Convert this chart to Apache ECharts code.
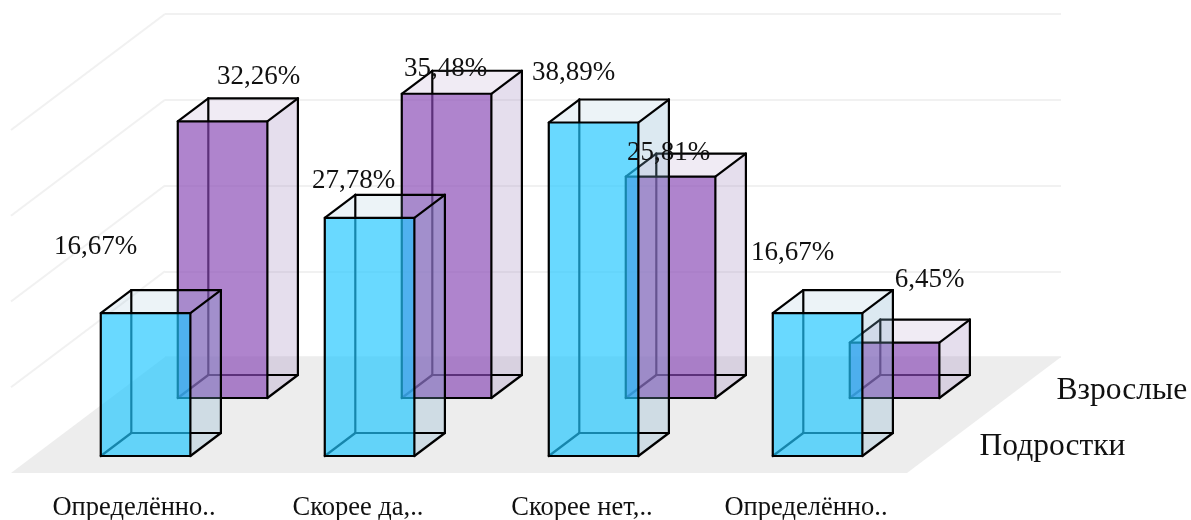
<!DOCTYPE html>
<html>
<head>
<meta charset="utf-8">
<style>html,body{margin:0;padding:0;background:#fff}#chart{width:1191px;height:520px}</style>
<script src="https://cdn.jsdelivr.net/npm/echarts@6/dist/echarts.min.js"></script>
</head>
<body>
<div id="chart"></div>
<script>
// Survey answers by age group
const categories = ['Определённо..', 'Скорее да,..', 'Скорее нет,..', 'Определённо..'];
const teens = [16.67, 27.78, 38.89, 16.67];
const adults = [32.26, 35.48, 25.81, 6.45];
const valueTicks = [0, 10, 20, 30, 40];

// Value label placement relative to the centre of each box's top front edge
const teenLabelNudge = [[-50, -66], [-16, -37], [-20, -50], [-25, -60]];
const adultLabelNudge = [[36, -44], [-1, -25], [-2, -24], [35, -63]];

// Oblique projection: the floor runs 154px left and 116px down from the back wall
const FLOOR_DX = 154, FLOOR_DY = 116;
const FONT = '"Liberation Serif", "Times New Roman", serif';
const INK = '#000';
const EDGE = 2.2;

function project(api, cat, val, side, depth) {
  const p = api.coord([cat, val]);
  const half = api.size([1, 0])[0] * 0.2;
  return [p[0] + side * half - depth * FLOOR_DX / FLOOR_DY, p[1] + depth];
}

function poly(points, fill, stroke, width, z2) {
  return {
    type: 'polygon',
    z2: z2 || 0,
    shape: { points },
    style: { fill: fill || 'none', stroke: stroke || 'none', lineWidth: width || 0, lineJoin: 'round' }
  };
}

function boxRenderer(row) {
  return function (params, api) {
    const i = api.value(0), v = api.value(1);
    const P = (side, val, d) => project(api, i, val, side, d);
    const nf = row.near, fr = row.far, layer = row.layer;
    const fl0 = P(-1, 0, nf), fr0 = P(1, 0, nf), frv = P(1, v, nf), flv = P(-1, v, nf);
    const bl0 = P(-1, 0, fr), br0 = P(1, 0, fr), brv = P(1, v, fr), blv = P(-1, v, fr);
    const line = (a, b) => ({
      type: 'line',
      z2: layer + 1,
      shape: { x1: a[0], y1: a[1], x2: b[0], y2: b[1] },
      style: { stroke: INK, lineWidth: EDGE, lineCap: 'round' }
    });
    const children = [
      poly([fr0, br0, brv, frv], row.side, null, 0, layer),
      poly([flv, frv, brv, blv], row.top, null, 0, layer),
      line(bl0, br0), line(br0, brv), line(brv, blv), line(blv, bl0),
      line(fl0, bl0), line(fr0, br0), line(frv, brv), line(flv, blv),
      poly([fl0, fr0, frv, flv], row.front, null, 0, layer + 2),
      poly([fl0, fr0, frv, flv], null, INK, EDGE, layer + 3)
    ];
    const nudge = row.nudge[i];
    const topMid = [(flv[0] + frv[0]) / 2, flv[1]];
    children.push({
      type: 'text',
      z2: 100,
      style: {
        text: v.toFixed(2).replace('.', ',') + '%',
        x: topMid[0] + nudge[0],
        y: topMid[1] + nudge[1],
        font: '27px ' + FONT,
        fill: '#111',
        align: 'center',
        verticalAlign: 'middle'
      }
    });
    // Row name sits beside the floor's right edge, next to the last box
    if (i === categories.length - 1) {
      children.push({
        type: 'text',
        z2: 100,
        style: {
          text: params.seriesName,
          x: topMid[0] + row.nameOffset[0],
          y: fl0[1] + row.nameOffset[1],
          font: '31.5px ' + FONT,
          fill: '#111',
          align: 'left',
          verticalAlign: 'middle'
        }
      });
    }
    return { type: 'group', children };
  };
}

function wallRenderer(params, api) {
  const v = api.value(1);
  const half = api.size([1, 0])[0] / 2;
  const base = api.coord([0, v]);
  const left = base[0] - half;
  if (v === 0) {
    const right = api.coord([categories.length - 1, 0])[0] + half;
    return poly([
      [left, base[1]], [right, base[1]],
      [right - FLOOR_DX, base[1] + FLOOR_DY], [left - FLOOR_DX, base[1] + FLOOR_DY]
    ], '#ededed');
  }
  return {
    type: 'line',
    shape: { x1: left, y1: base[1], x2: left - FLOOR_DX, y2: base[1] + FLOOR_DY },
    style: { stroke: '#f1f1f1', lineWidth: 2 }
  };
}

const chart = echarts.init(document.getElementById('chart'), null, { renderer: 'canvas' });
chart.setOption({
  animation: false,
  backgroundColor: '#fff',
  grid: [
    { left: 165, width: 896, top: 14, height: 343 },
    { left: 22, width: 896, top: 490, height: 1 }
  ],
  xAxis: [
    { type: 'category', data: categories, gridIndex: 0, show: false },
    {
      type: 'category', data: categories, gridIndex: 1,
      axisLine: { show: false }, axisTick: { show: false },
      axisLabel: { interval: 0, margin: 4.5, fontFamily: FONT, fontSize: 26.5, color: '#111', hideOverlap: false }
    }
  ],
  yAxis: [
    {
      type: 'value', min: 0, max: 40, interval: 10, gridIndex: 0,
      axisLabel: { show: false }, axisLine: { show: false }, axisTick: { show: false },
      splitLine: { show: true, lineStyle: { color: '#f1f1f1', width: 2 } }
    },
    { type: 'value', gridIndex: 1, show: false }
  ],
  series: [
    {
      type: 'custom', name: 'Стены', clip: false, silent: true, z: 1,
      renderItem: wallRenderer,
      encode: { x: 0, y: 1 },
      data: valueTicks.map(t => [0, t])
    },
    {
      type: 'custom', name: 'Взрослые', clip: false, z: 2,
      renderItem: boxRenderer({
        near: 41, far: 18, layer: 0,
        front: 'rgba(136,73,181,0.675)',
        side: 'rgba(160,135,190,0.275)',
        top: 'rgba(155,122,182,0.15)',
        nudge: adultLabelNudge,
        nameOffset: [162, 33 - 40]
      }),
      encode: { x: 0, y: 1 },
      data: adults.map((v, i) => [i, v])
    },
    {
      type: 'custom', name: 'Подростки', clip: false, z: 2,
      renderItem: boxRenderer({
        near: 99, far: 76, layer: 10,
        front: 'rgba(33,199,255,0.675)',
        side: 'rgba(127,175,204,0.275)',
        top: 'rgba(127,175,204,0.15)',
        nudge: teenLabelNudge,
        nameOffset: [162, -9]
      }),
      encode: { x: 0, y: 1 },
      data: teens.map((v, i) => [i, v])
    }
  ]
});
</script>
</body>
</html>
